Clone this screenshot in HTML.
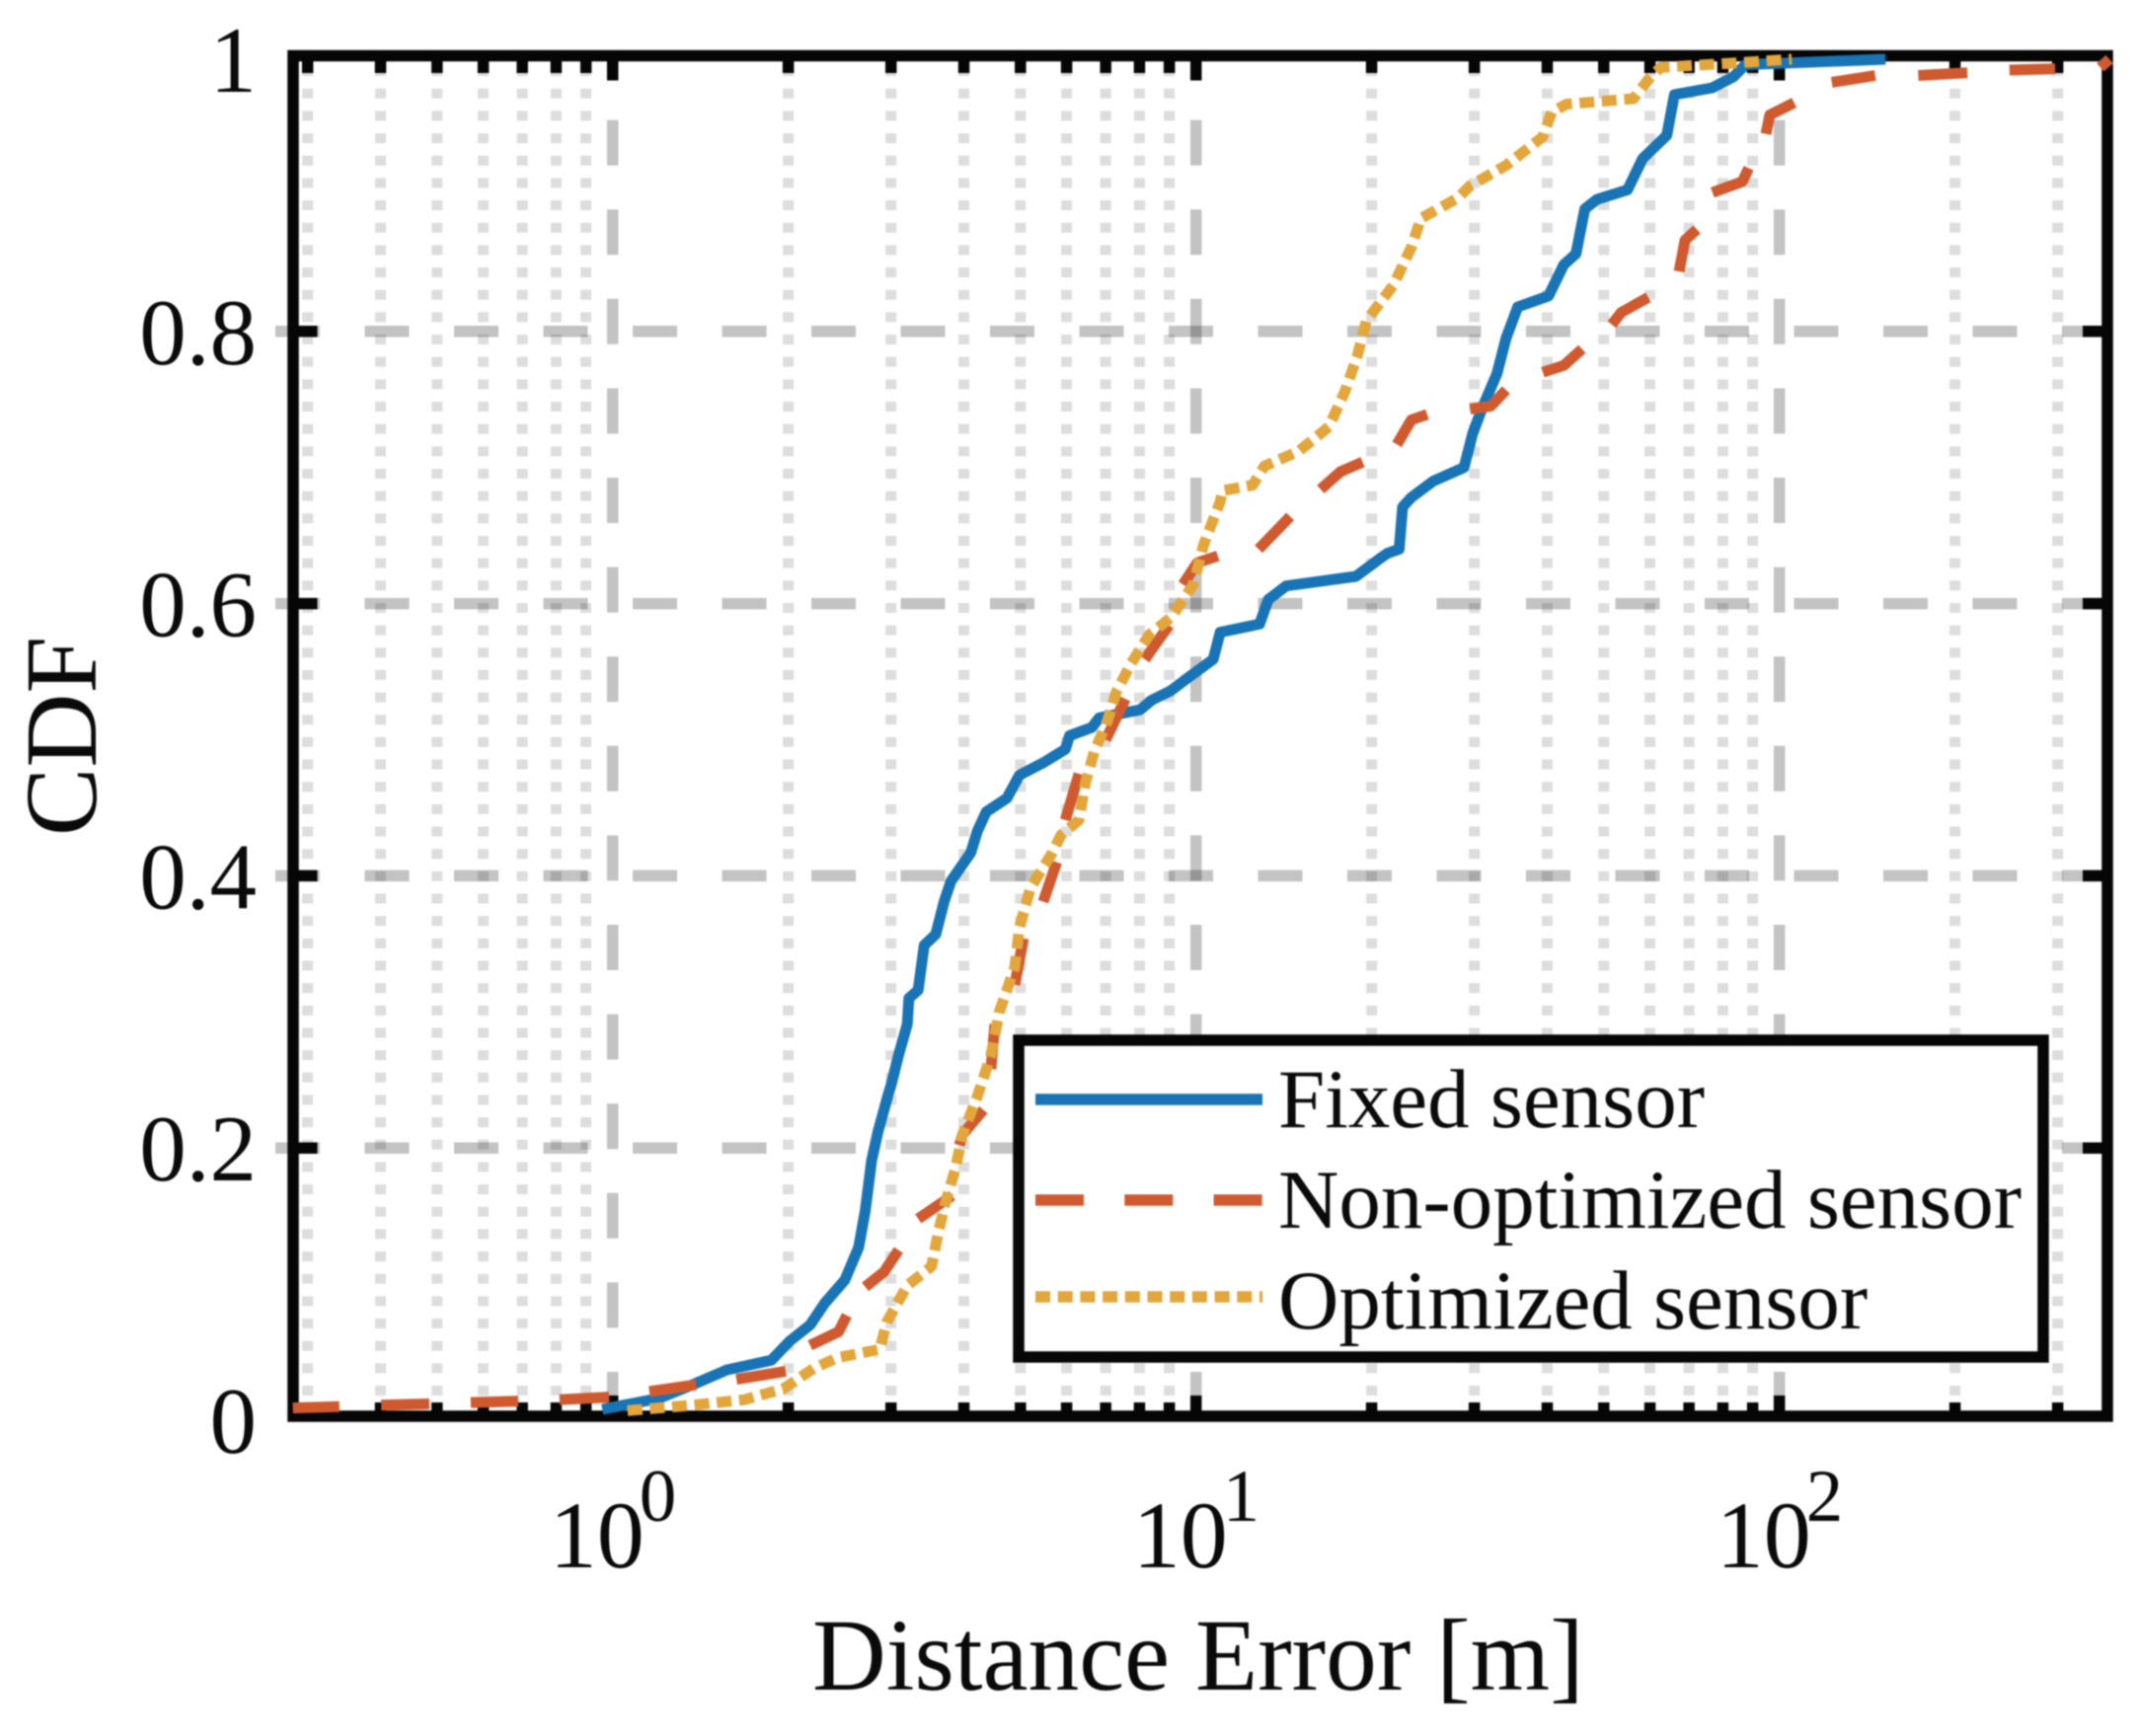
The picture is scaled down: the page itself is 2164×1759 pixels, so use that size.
<!DOCTYPE html>
<html lang="en">
<head>
<meta charset="utf-8">
<title>Distance Error CDF</title>
<style>
html,body{margin:0;padding:0;background:#fff;overflow:hidden;}
svg{display:block;filter:blur(0.7px);}
text{font-family:"Liberation Serif","Times New Roman",serif;fill:#0a0a0a;}
</style>
</head>
<body>
<svg id="chart" xmlns="http://www.w3.org/2000/svg" width="2164" height="1759" viewBox="0 0 2164 1759">
  <rect x="0" y="0" width="2164" height="1759" fill="#ffffff"/>
  <g id="grid"></g>
  <g id="ticks"></g>
  <g id="series"></g>
  <g id="spines">
    <rect x="297" y="56.5" width="1838" height="1378.5" fill="none" stroke="#060606" stroke-width="11.5"/>
  </g>
  <g id="seriesOver"></g>
  <g id="tickLabels"></g>
  <text transform="translate(97,746) rotate(-90)" text-anchor="middle" font-size="104">CDF</text>
  <text x="823" y="1712" font-size="103.5">Distance Error [m]</text>
  <g>
    <rect x="1032" y="1054" width="1038" height="321" fill="#ffffff" stroke="#060606" stroke-width="11.5"/>
    <line x1="1049" x2="1279" y1="1114" y2="1114" stroke="#1874b5" stroke-width="11.6"/>
    <line x1="1049" x2="1279" y1="1216" y2="1216" stroke="#cf5a30" stroke-width="11.6" stroke-dasharray="49 41.3"/>
    <line x1="1049" x2="1279" y1="1314" y2="1314" stroke="#e2a63c" stroke-width="11.6" stroke-dasharray="15 7.7"/>
    <text x="1295" y="1142" font-size="85">Fixed sensor</text>
    <text x="1295" y="1244" font-size="85">Non-optimized sensor</text>
    <text x="1295" y="1346" font-size="85">Optimized sensor</text>
  </g>
</svg>
<script>
// ---- chart data (x in metres, y as CDF) ----
const fixedX = [0.96,1.2,1.37,1.57,1.87,2.01,2.18,2.31,2.5,2.64,2.71,2.78,2.85,2.97,3.0,3.09,3.2,3.22,3.34,3.42,3.58,3.7,3.8,4.11,4.22,4.37,4.74,4.98,5.47,5.97,6.07,6.63,6.82,8.02,8.39,9.05,9.72,10.7,11.0,12.85,13.3,14.27,18.8,20.8,21.3,22.3,22.6,23.4,25.5,28.8,29.8,30.9,32.8,34.0,35.6,40.2,42.7,44.8,46.4,48.7,54.9,58.3,64.1,66.1,76.7,83.4,87.5,152];
const fixedY = [.008,.016,.026,.037,.044,.058,.070,.086,.103,.127,.154,.191,.212,.240,.246,.268,.291,.310,.316,.349,.357,.381,.396,.417,.433,.447,.457,.474,.483,.493,.503,.509,.516,.522,.529,.536,.546,.559,.579,.585,.603,.613,.620,.634,.637,.640,.671,.678,.690,.700,.725,.743,.769,.795,.818,.826,.849,.857,.890,.897,.904,.927,.944,.974,.979,.987,.996,1];
// the dashed series keeps a null between visible dashes
const nonOptX = [0.283,0.340,null,0.401,0.485,null,0.571,0.689,null,0.811,0.986,null,1.156,1.39,null,1.63,1.98,null,2.18,2.44,2.52,null,2.71,2.92,3.09,null,3.34,3.82,null,3.93,3.98,4.32,null,4.45,4.52,null,4.89,5.06,null,5.47,5.77,null,5.97,6.3,null,7.0,7.57,null,8.17,8.98,null,9.5,10.05,10.9,null,12.8,14.5,null,16.35,17.7,19.3,null,22.1,23.4,24.9,null,29.5,32.0,34.0,null,39.3,42.7,45.9,null,51.6,53.6,59.6,null,67.3,68.9,72.2,null,76.8,86.4,88.6,null,94.8,96.3,106,null,123,146,null,173,210,null,248,297,null,355,368];
const nonOptY = [.009,.010,null,.011,.012,null,.013,.014,null,.015,.017,null,.021,.026,null,.030,.036,null,.055,.065,.077,null,.098,.109,.125,null,.148,.165,null,.202,.210,.228,null,.258,.291,null,.320,.354,null,.381,.410,null,.441,.475,null,.500,.530,null,.559,.584,null,.614,.630,.635,null,.640,.664,null,.684,.697,.704,null,.717,.735,.739,null,.743,.745,.757,null,.770,.775,.787,null,.805,.814,.825,null,.844,.867,.875,null,.902,.910,.920,null,.945,.959,.968,null,.983,.988,null,.988,.990,null,.992,.993,null,.994,1];
const optX = [1.06,1.37,1.68,1.96,2.21,2.43,2.87,2.95,3.2,3.52,3.62,3.72,3.87,3.98,4.21,4.45,4.60,4.89,4.98,5.20,5.67,5.87,6.30,6.46,6.69,7.05,7.30,7.74,8.31,9.07,9.89,10.3,11.0,11.1,12.5,13.1,15.0,16.9,18.0,18.9,19.6,21.8,23.4,24.3,28.1,29.5,34.0,39.3,40.7,43.2,56.2,59.6,62.6,82.4,105];
const optY = [.007,.011,.015,.023,.038,.046,.052,.072,.099,.113,.139,.160,.185,.210,.237,.268,.300,.333,.362,.391,.417,.430,.441,.468,.491,.514,.535,.556,.577,.590,.614,.643,.675,.683,.687,.701,.712,.730,.756,.782,.808,.834,.862,.883,.898,.907,.922,.943,.961,.967,.971,.985,.994,.997,1];

// ---- tick values and labels ----
const yTicks = [0,0.2,0.4,0.6,0.8,1];
const yTickLabels = ['0','0.2','0.4','0.6','0.8','1'];
const xMajorTicks = [1,10,100];
const xMajorExponents = ['0','1','2'];
const xMinorTicks = [0.3,0.4,0.5,0.6,0.7,0.8,0.9,2,3,4,5,6,7,8,9,20,30,40,50,60,70,80,90,200,300];

// ---- axis functions ----
function sx(v){ return 620.7 + 591*Math.log10(v); }
function sy(v){ return 1439 - 1379*v; }

const NS = 'http://www.w3.org/2000/svg';
function make(parent, tag, attrs, text){
  const el = document.createElementNS(NS, tag);
  for (const k in attrs) el.setAttribute(k, attrs[k]);
  if (text !== undefined) el.textContent = text;
  parent.appendChild(el);
  return el;
}

const grid = document.getElementById('grid');
const ticks = document.getElementById('ticks');
const labels = document.getElementById('tickLabels');
const seriesOver = document.getElementById('seriesOver');
const LEFT = 297, RIGHT = 2135, TOP = 56.5, BOTTOM = 1435;

// minor vertical grid + ticks
xMinorTicks.forEach(function(v){
  const x = sx(v);
  const g = make(grid, 'line', {x1:x, x2:x, y1:1436.7, y2:TOP, stroke:'rgba(0,0,0,0.135)', 'stroke-width':11, 'stroke-dasharray':'10 12.66'});
  
  
  const t1 = make(ticks, 'line', {x1:x, x2:x, y1:TOP, y2:74, stroke:'#060606', 'stroke-width':11.5});
  
  
  const t2 = make(ticks, 'line', {x1:x, x2:x, y1:BOTTOM, y2:1421, stroke:'#060606', 'stroke-width':11.5});
  
  
});

// major vertical grid + ticks + labels
xMajorTicks.forEach(function(v, i){
  const x = sx(v);
  const g = make(grid, 'line', {x1:x, x2:x, y1:1436, y2:TOP, stroke:'rgba(0,0,0,0.235)', 'stroke-width':11.5, 'stroke-dasharray':'46 44.6'});
  
  
  const t1 = make(ticks, 'line', {x1:x, x2:x, y1:TOP, y2:81.5, stroke:'#060606', 'stroke-width':11.5});
  
  
  const t2 = make(ticks, 'line', {x1:x, x2:x, y1:BOTTOM, y2:1414, stroke:'#060606', 'stroke-width':11.5});
  
  
  const base = make(labels, 'text', {x:x-64, y:1588, 'font-size':96}, '10');
  
  
  const exp = make(labels, 'text', {x:x+27, y:1541, 'font-size':75}, xMajorExponents[i]);
  
  
});

// horizontal grid + ticks + labels
yTicks.forEach(function(v, i){
  const y = sy(v);
  if (v > 0 && v < 1) {
    const g = make(grid, 'line', {x1:279, x2:RIGHT, y1:y, y2:y, stroke:'rgba(0,0,0,0.235)', 'stroke-width':11.5, 'stroke-dasharray':'45 45.5'});
    
    
    const t1 = make(ticks, 'line', {x1:LEFT, x2:321.5, y1:y, y2:y, stroke:'#060606', 'stroke-width':11.5});
    
    
    const t2 = make(ticks, 'line', {x1:RIGHT, x2:2110, y1:y, y2:y, stroke:'#060606', 'stroke-width':11.5});
    
    
  }
  const lab = make(labels, 'text', {x:260, y:y+33, 'font-size':95, 'text-anchor':'end'}, yTickLabels[i]);
  
  
});

// curves (a null in the arrays lifts the pen)
function pathFrom(xs, ys){
  let d = '', pen = false;
  xs.forEach(function(v, i){
    if (v === null || ys[i] === null) { pen = false; return; }
    d += (pen ? 'L' : 'M') + sx(v).toFixed(1) + ' ' + sy(ys[i]).toFixed(1) + ' ';
    pen = true;
  });
  return d;
}
const fixedLine = make(seriesOver, 'path', {d:pathFrom(fixedX, fixedY), fill:'none', stroke:'#1874b5', 'stroke-width':11, 'stroke-linejoin':'round'});


const nonOptLine = make(seriesOver, 'path', {d:pathFrom(nonOptX, nonOptY), fill:'none', stroke:'#cf5a30', 'stroke-width':11, 'stroke-linejoin':'round'});


const optLine = make(seriesOver, 'path', {d:pathFrom(optX, optY), fill:'none', stroke:'#e2a63c', 'stroke-width':11, 'stroke-linejoin':'round', 'stroke-dasharray':'15 7.7'});


</script>
</body>
</html>
